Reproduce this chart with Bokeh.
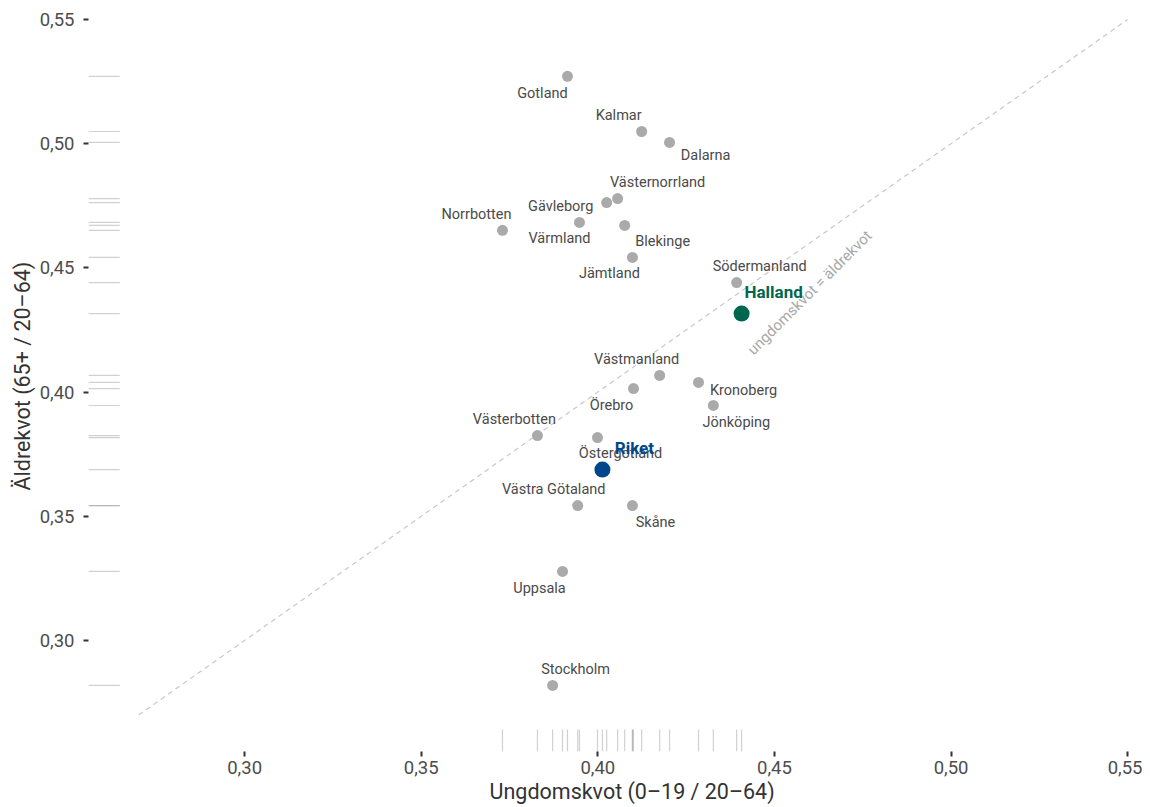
from bokeh.plotting import figure
from bokeh.models import Range1d, FixedTicker, CustomJSTickFormatter, ColumnDataSource, Title
from bokeh.core.properties import value
from bokeh.embed import file_html
from bokeh.resources import INLINE

# ---- data ----
names = ["Gotland", "Kalmar", "Dalarna", "Västernorrland", "Gävleborg", "Värmland",
         "Blekinge", "Norrbotten", "Jämtland", "Södermanland", "Västmanland",
         "Kronoberg", "Örebro", "Jönköping", "Västerbotten", "Östergötland",
         "Västra Götaland", "Skåne", "Uppsala", "Stockholm"]
youth = [0.3914, 0.4124, 0.4203, 0.4056, 0.4025, 0.3948,
         0.4076, 0.3730, 0.4098, 0.4393, 0.4175,
         0.4285, 0.4101, 0.4327, 0.3829, 0.3999,
         0.3943, 0.4098, 0.3900, 0.3872]
elderly = [0.5271, 0.5049, 0.5005, 0.4779, 0.4763, 0.4683,
           0.4671, 0.4651, 0.4542, 0.4441, 0.4067,
           0.4039, 0.4014, 0.3946, 0.3825, 0.3817,
           0.3543, 0.3543, 0.3278, 0.2819]

hl_names = ["Halland", "Riket"]
hl_youth = [0.4407, 0.4013]
hl_elderly = [0.4316, 0.3688]
hl_colors = ["#00674F", "#00468B"]

x_ticks = [0.30, 0.35, 0.40, 0.45, 0.50, 0.55]
y_ticks = [0.30, 0.35, 0.40, 0.45, 0.50, 0.55]
diag = [0.27, 0.55]

x_title = "Ungdomskvot (0–19 / 20–64)"
y_title = "Äldrekvot (65+ / 20–64)"

# label offsets in screen pixels (dx right, dy down)
label_dx = [-25, -23, 36, 40, -46, -20, 38, -26, -23, 23, -23, 45, -22, 23, -23, 23, -24, 23, -23, 23]
label_dy = [17, -16, 13, -16, 4, 16, 16, -16, 16, -16, -16, 8, 17, 17, -16, 16, -16, 17, 17, -16]
hl_dx = [32, 32]
hl_dy = [-22, -22]

X0, X1 = 0.2558, 0.5508
Y0, Y1 = 0.2553, 0.5516

FONT = "Roboto"

p = figure(width=1142, height=807, output_backend="svg", toolbar_location=None,
           x_range=Range1d(X0, X1), y_range=Range1d(Y0, Y1),
           min_border_left=88, min_border_right=12, min_border_top=15, min_border_bottom=56)
p.outline_line_color = None
p.grid.grid_line_color = None
p.background_fill_color = "white"

fmt = CustomJSTickFormatter(code="return tick.toFixed(2).replace('.', ',');")
for ax, ticks in ((p.xaxis[0], x_ticks), (p.yaxis[0], y_ticks)):
    ax.ticker = FixedTicker(ticks=ticks)
    ax.formatter = fmt
    ax.axis_line_color = None
    ax.major_tick_line_color = "#333333"
    ax.major_tick_line_width = 2
    ax.major_tick_out = 5
    ax.major_tick_in = 0
    ax.minor_tick_line_color = None
    ax.major_label_text_font = FONT
    ax.major_label_text_font_size = "18.5px"
    ax.major_label_text_color = "#4d4d4d"

p.xaxis.major_label_standoff = 4
p.yaxis.major_label_standoff = 9

# axis titles, positioned like the reference
p.add_layout(Title(text=x_title, align="left", offset=401, standoff=0,
                   text_font=FONT, text_font_size="21.5px", text_font_style="normal",
                   text_color="#333333"), "below")
p.add_layout(Title(text=y_title, align="left", offset=261, standoff=4,
                   text_font=FONT, text_font_size="21.5px", text_font_style="normal",
                   text_color="#333333"), "left")

# diagonal
p.line(diag, diag, line_color="#c8c8c8", line_width=1.2, line_dash="5 4")
p.text(x=[0.4600], y=[0.4400], text=["ungdomskvot = äldrekvot"], angle=45, angle_units="deg",
       text_font=value(FONT), text_font_size="15px", text_color="#a8a8a8",
       text_align="center", text_baseline="middle")

# rugs
all_x = youth + hl_youth
all_y = elderly + hl_elderly
rug_len_x = 0.03 * (X1 - X0)
rug_len_y = 0.03 * (Y1 - Y0)
p.segment(x0=[X0] * len(all_y), x1=[X0 + rug_len_x] * len(all_y), y0=all_y, y1=all_y,
          line_color="#999999", line_alpha=0.45, line_width=1.2)
p.segment(x0=all_x, x1=all_x, y0=[Y0] * len(all_x), y1=[Y0 + rug_len_y] * len(all_x),
          line_color="#999999", line_alpha=0.45, line_width=1.2)

# points
src = ColumnDataSource(dict(x=youth, y=elderly, name=names, dx=label_dx, dy=label_dy))
p.scatter("x", "y", source=src, size=11, fill_color="#aaaaaa", line_color=None)
p.text("x", "y", text="name", source=src, x_offset="dx", y_offset="dy",
       text_font=value(FONT), text_font_size="14.5px", text_color="#4a4a4a",
       text_align="center", text_baseline="middle")

hsrc = ColumnDataSource(dict(x=hl_youth, y=hl_elderly, name=hl_names, c=hl_colors, dx=hl_dx, dy=hl_dy))
p.scatter("x", "y", source=hsrc, size=16, fill_color="c", line_color=None)
p.text("x", "y", text="name", source=hsrc, x_offset="dx", y_offset="dy",
       text_font=value(FONT), text_font_size="17px", text_font_style="bold", text_color="c",
       text_align="center", text_baseline="middle")

open("out.html", "w").write(file_html(p, INLINE))
